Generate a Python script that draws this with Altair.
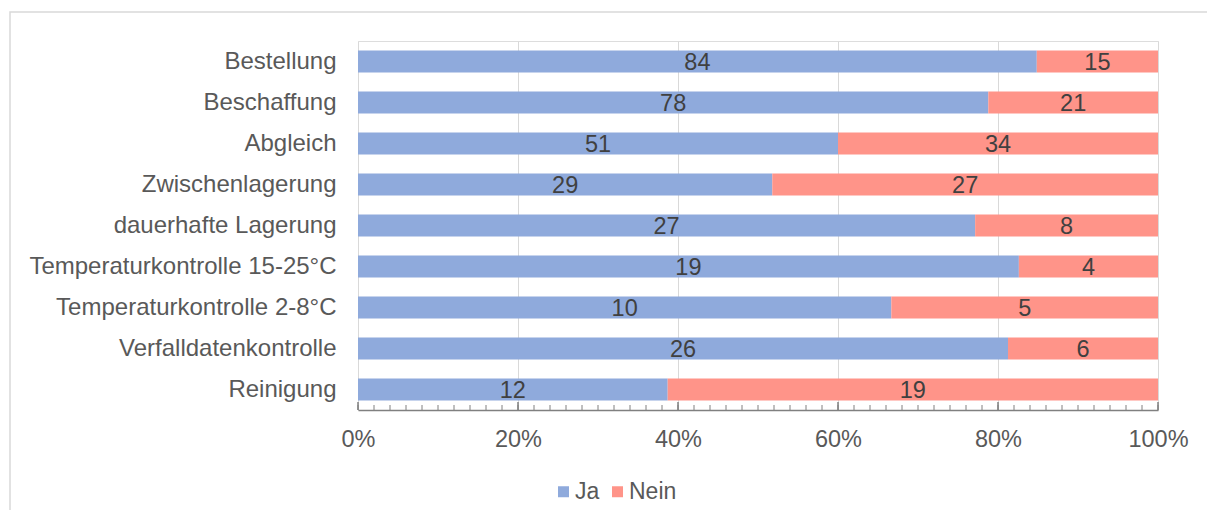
import altair as alt
import pandas as pd

categories = ["Bestellung", "Beschaffung", "Abgleich", "Zwischenlagerung",
              "dauerhafte Lagerung", "Temperaturkontrolle 15-25°C",
              "Temperaturkontrolle 2-8°C", "Verfalldatenkontrolle", "Reinigung"]
ja = [84, 78, 51, 29, 27, 19, 10, 26, 12]
nein = [15, 21, 34, 27, 8, 4, 5, 6, 19]
series = ["Ja", "Nein"]
colors = ["#8FAADC", "#FF9489"]
major_ticks = [0, 0.2, 0.4, 0.6, 0.8, 1.0]
minor_ticks = [i / 50 for i in range(51)]

rows = []
for c, a, b in zip(categories, ja, nein):
    rows.append({"cat": c, "series": "Ja", "order": 0, "value": a})
    rows.append({"cat": c, "series": "Nein", "order": 1, "value": b})
df = pd.DataFrame(rows)

W, H = 800, 369
FONT = "Liberation Sans"
FS = 23.5

base = alt.Chart(df).transform_joinaggregate(
    total="sum(value)", groupby=["cat"]
).transform_calculate(
    pct="datum.value / datum.total"
).transform_window(
    cum="sum(pct)", groupby=["cat"], sort=[alt.SortField("order")],
    frame=[None, 0]
).transform_calculate(
    start="datum.cum - datum.pct", mid="datum.cum - datum.pct / 2"
)

yenc = alt.Y("cat:N", sort=categories, title=None,
             scale=alt.Scale(paddingInner=0.46, paddingOuter=0.23),
             axis=alt.Axis(domain=False, ticks=False, labelPadding=22,
                           labelFontSize=24, labelColor="#595959",
                           labelFont=FONT, labelLimit=400))

xscale = alt.Scale(domain=[0, 1], nice=False)

bars = base.mark_bar(cornerRadius=0).encode(
    x=alt.X("start:Q", scale=xscale, title=None,
            axis=alt.Axis(values=major_ticks, format="%", grid=True,
                          gridColor="#D9D9D9", gridWidth=1, ticks=False,
                          domainColor="#808080", domainWidth=1.5,
                          labelFlush=False, labelOverlap=False,
                          labelPadding=17, labelFontSize=FS,
                          labelColor="#595959", labelFont=FONT)),
    x2="cum:Q",
    y=yenc,
    color=alt.Color("series:N", scale=alt.Scale(domain=series, range=colors),
                    title=None,
                    legend=alt.Legend(orient="none", legendX=194, legendY=439,
                                      direction="horizontal", symbolType="square",
                                      symbolSize=121, symbolStrokeWidth=0,
                                      labelFontSize=23, labelColor="#595959",
                                      labelFont=FONT, labelOffset=0,
                                      columnPadding=6, padding=0)),
    order=alt.Order("order:Q"),
)

labels = base.mark_text(fontSize=FS, color="#404040", font=FONT,
                        baseline="middle", align="center", dy=1).encode(
    x=alt.X("mid:Q", scale=xscale),
    y=alt.Y("cat:N", sort=categories),
    text="value:Q",
)

minor = alt.Chart(pd.DataFrame({"t": minor_ticks})).mark_rule(
    color="#808080", strokeWidth=1).encode(
    x=alt.X("t:Q", scale=xscale), y=alt.value(H - 5), y2=alt.value(H))

major = alt.Chart(pd.DataFrame({"t": major_ticks})).mark_rule(
    color="#808080", strokeWidth=1.5).encode(
    x=alt.X("t:Q", scale=xscale), y=alt.value(H - 8), y2=alt.value(H))

border = alt.Chart(pd.DataFrame({"a": [0]})).mark_rect(
    fill=None, stroke="#D9D9D9", strokeWidth=1.5).encode(
    x=alt.value(-348), x2=alt.value(1300), y=alt.value(-29), y2=alt.value(700))

chart = alt.layer(border, bars, labels, minor, major).properties(
    width=W, height=H,
    autosize=alt.AutoSizeParams(type="none"),
    padding={"left": 350, "top": 33, "right": 49, "bottom": 100},
).configure_view(stroke=None).configure(background="white")

chart.save("out.html", embed_options={"renderer": "svg", "actions": False})
